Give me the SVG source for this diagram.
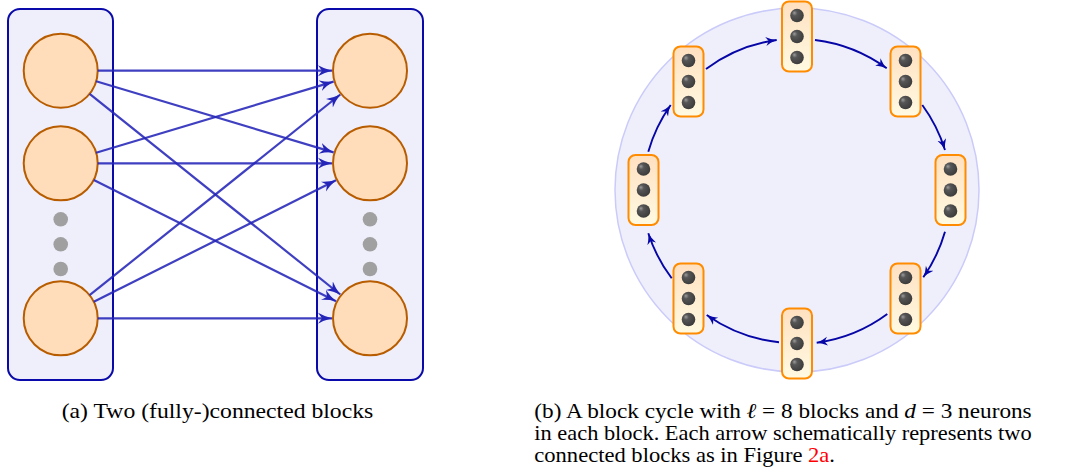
<svg xmlns="http://www.w3.org/2000/svg" xmlns:xlink="http://www.w3.org/1999/xlink" width="1069" height="474" viewBox="0 0 1069 474">
<style>
.layer{fill:#EFEFFC;stroke:#0A0AAA;stroke-width:2}
.neuron{fill:#FFDDBB;stroke:#B85C00;stroke-width:2}
.gdot{fill:#A0A0A0}
.edge{fill:none;stroke:#2424B8;stroke-opacity:0.88;stroke-width:2.2}
.cyc{fill:none;stroke:#0606A6;stroke-width:1.9}
.ring{fill:#EFEFFC;stroke:#CBCBFA;stroke-width:1.5}
.cap{font-family:"Liberation Serif","Times New Roman",serif;font-size:21px;fill:#000}
</style>
<defs>
<marker id="ah" markerUnits="userSpaceOnUse" markerWidth="16" markerHeight="14" refX="14" refY="6" orient="auto">
<path d="M0,0.5 Q6.5,4.2 14,6 Q6.5,7.8 0,11.5 L4,6 z" fill="#2424B8"/>
</marker>
<marker id="ah2" markerUnits="userSpaceOnUse" markerWidth="14" markerHeight="12" refX="11" refY="5" orient="auto">
<path d="M0,0.5 Q5,3.6 11,5 Q5,6.4 0,9.5 L3,5 z" fill="#0606A6"/>
</marker>
<linearGradient id="bg" x1="0" y1="0" x2="0" y2="1">
<stop offset="0" stop-color="#FFE0C0"/>
<stop offset="1" stop-color="#FFFAE2"/>
</linearGradient>
<radialGradient id="ball" cx="0.4" cy="0.4" r="0.65" fx="0.3" fy="0.3">
<stop offset="0" stop-color="#9C9C9C"/>
<stop offset="0.3" stop-color="#565656"/>
<stop offset="1" stop-color="#3A3A3A"/>
</radialGradient>
<g id="blk">
<rect x="-15" y="-35" width="30" height="70" rx="7" fill="url(#bg)" stroke="#FF8C00" stroke-width="2"/>
<circle cx="0" cy="-21" r="6.8" fill="url(#ball)"/>
<circle cx="0" cy="0" r="6.8" fill="url(#ball)"/>
<circle cx="0" cy="21" r="6.8" fill="url(#ball)"/>
</g>
</defs>

<!-- Panel (a) -->
<g id="layerA"><rect class="layer" x="8" y="9" width="105" height="371" rx="12"/></g>
<g id="layerB"><rect class="layer" x="317" y="9" width="106" height="371" rx="12"/></g>
<g id="a1"><circle class="neuron" cx="60.7" cy="70.7" r="37"/></g>
<g id="a2"><circle class="neuron" cx="60.7" cy="163.3" r="37"/></g>
<g id="a3"><circle class="neuron" cx="60.7" cy="318.3" r="37"/></g>
<g id="adots"><circle class="gdot" cx="60.7" cy="219.3" r="7.3"/><circle class="gdot" cx="60.7" cy="244.3" r="7.3"/><circle class="gdot" cx="60.7" cy="269" r="7.3"/></g>
<g id="b1"><circle class="neuron" cx="370" cy="70.7" r="37"/></g>
<g id="b2"><circle class="neuron" cx="370" cy="163.3" r="37"/></g>
<g id="b3"><circle class="neuron" cx="370" cy="318.3" r="37"/></g>
<g id="bdots"><circle class="gdot" cx="370" cy="219.3" r="7.3"/><circle class="gdot" cx="370" cy="244.3" r="7.3"/><circle class="gdot" cx="370" cy="269" r="7.3"/></g>

<g id="edgesA">
<line class="edge" x1="97.7" y1="70.7" x2="332" y2="70.7" marker-end="url(#ah)"/>
<line class="edge" x1="96.1" y1="81.3" x2="333.6" y2="152.4" marker-end="url(#ah)"/>
<line class="edge" x1="89.6" y1="93.8" x2="340.3" y2="294.5" marker-end="url(#ah)"/>
<line class="edge" x1="96.1" y1="152.7" x2="333.6" y2="81.6" marker-end="url(#ah)"/>
<line class="edge" x1="97.7" y1="163.3" x2="332" y2="163.3" marker-end="url(#ah)"/>
<line class="edge" x1="93.8" y1="179.9" x2="336" y2="301.3" marker-end="url(#ah)"/>
<line class="edge" x1="89.6" y1="295.2" x2="340.3" y2="94.5" marker-end="url(#ah)"/>
<line class="edge" x1="93.8" y1="301.7" x2="336" y2="180.3" marker-end="url(#ah)"/>
<line class="edge" x1="97.7" y1="318.3" x2="332" y2="318.3" marker-end="url(#ah)"/>
</g>

<!-- Panel (b) -->
<g id="ring"><circle class="ring" cx="797" cy="190" r="182"/></g>
<g id="c1" transform="translate(797,36.5)"><use xlink:href="#blk"/></g>
<g id="c2" transform="translate(905.5,81.5)"><use xlink:href="#blk"/></g>
<g id="c3" transform="translate(950.5,190)"><use xlink:href="#blk"/></g>
<g id="c4" transform="translate(905.5,298.5)"><use xlink:href="#blk"/></g>
<g id="c5" transform="translate(797,343.5)"><use xlink:href="#blk"/></g>
<g id="c6" transform="translate(688.5,298.5)"><use xlink:href="#blk"/></g>
<g id="c7" transform="translate(643.5,190)"><use xlink:href="#blk"/></g>
<g id="c8" transform="translate(688.5,81.5)"><use xlink:href="#blk"/></g>

<g id="edgesB">
<path class="cyc" d="M648.3,151.7 A153.5,153.5 0 0 1 670.7,105" marker-end="url(#ah2)"/>
<path class="cyc" d="M706,69 A153.5,153.5 0 0 1 776.7,40" marker-end="url(#ah2)"/>
<path class="cyc" d="M815,40 A153.5,153.5 0 0 1 886.7,68.3" marker-end="url(#ah2)"/>
<path class="cyc" d="M922.3,105 A153.5,153.5 0 0 1 945,150" marker-end="url(#ah2)"/>
<path class="cyc" d="M945,231.7 A153.5,153.5 0 0 1 923.3,277.3" marker-end="url(#ah2)"/>
<path class="cyc" d="M887.3,314 A153.5,153.5 0 0 1 816.7,342.7" marker-end="url(#ah2)"/>
<path class="cyc" d="M779,342.3 A153.5,153.5 0 0 1 706.7,315" marker-end="url(#ah2)"/>
<path class="cyc" d="M671.7,278.3 A153.5,153.5 0 0 1 648.3,233.3" marker-end="url(#ah2)"/>
</g>

<!-- Captions -->
<text class="cap" x="61.7" y="417.5" textLength="311.6" lengthAdjust="spacingAndGlyphs">(a) Two (fully-)connected blocks</text>
<text class="cap" x="534.3" y="417.5" textLength="497.4" lengthAdjust="spacingAndGlyphs">(b) A block cycle with <tspan font-style="italic">ℓ</tspan> = 8 blocks and <tspan font-style="italic">d</tspan> = 3 neurons</text>
<text class="cap" x="534.3" y="439.5" textLength="497.4" lengthAdjust="spacingAndGlyphs">in each block. Each arrow schematically represents two</text>
<text class="cap" x="534.3" y="461.5" textLength="300.7" lengthAdjust="spacingAndGlyphs">connected blocks as in Figure <tspan fill="#FF0000">2a</tspan>.</text>
</svg>
